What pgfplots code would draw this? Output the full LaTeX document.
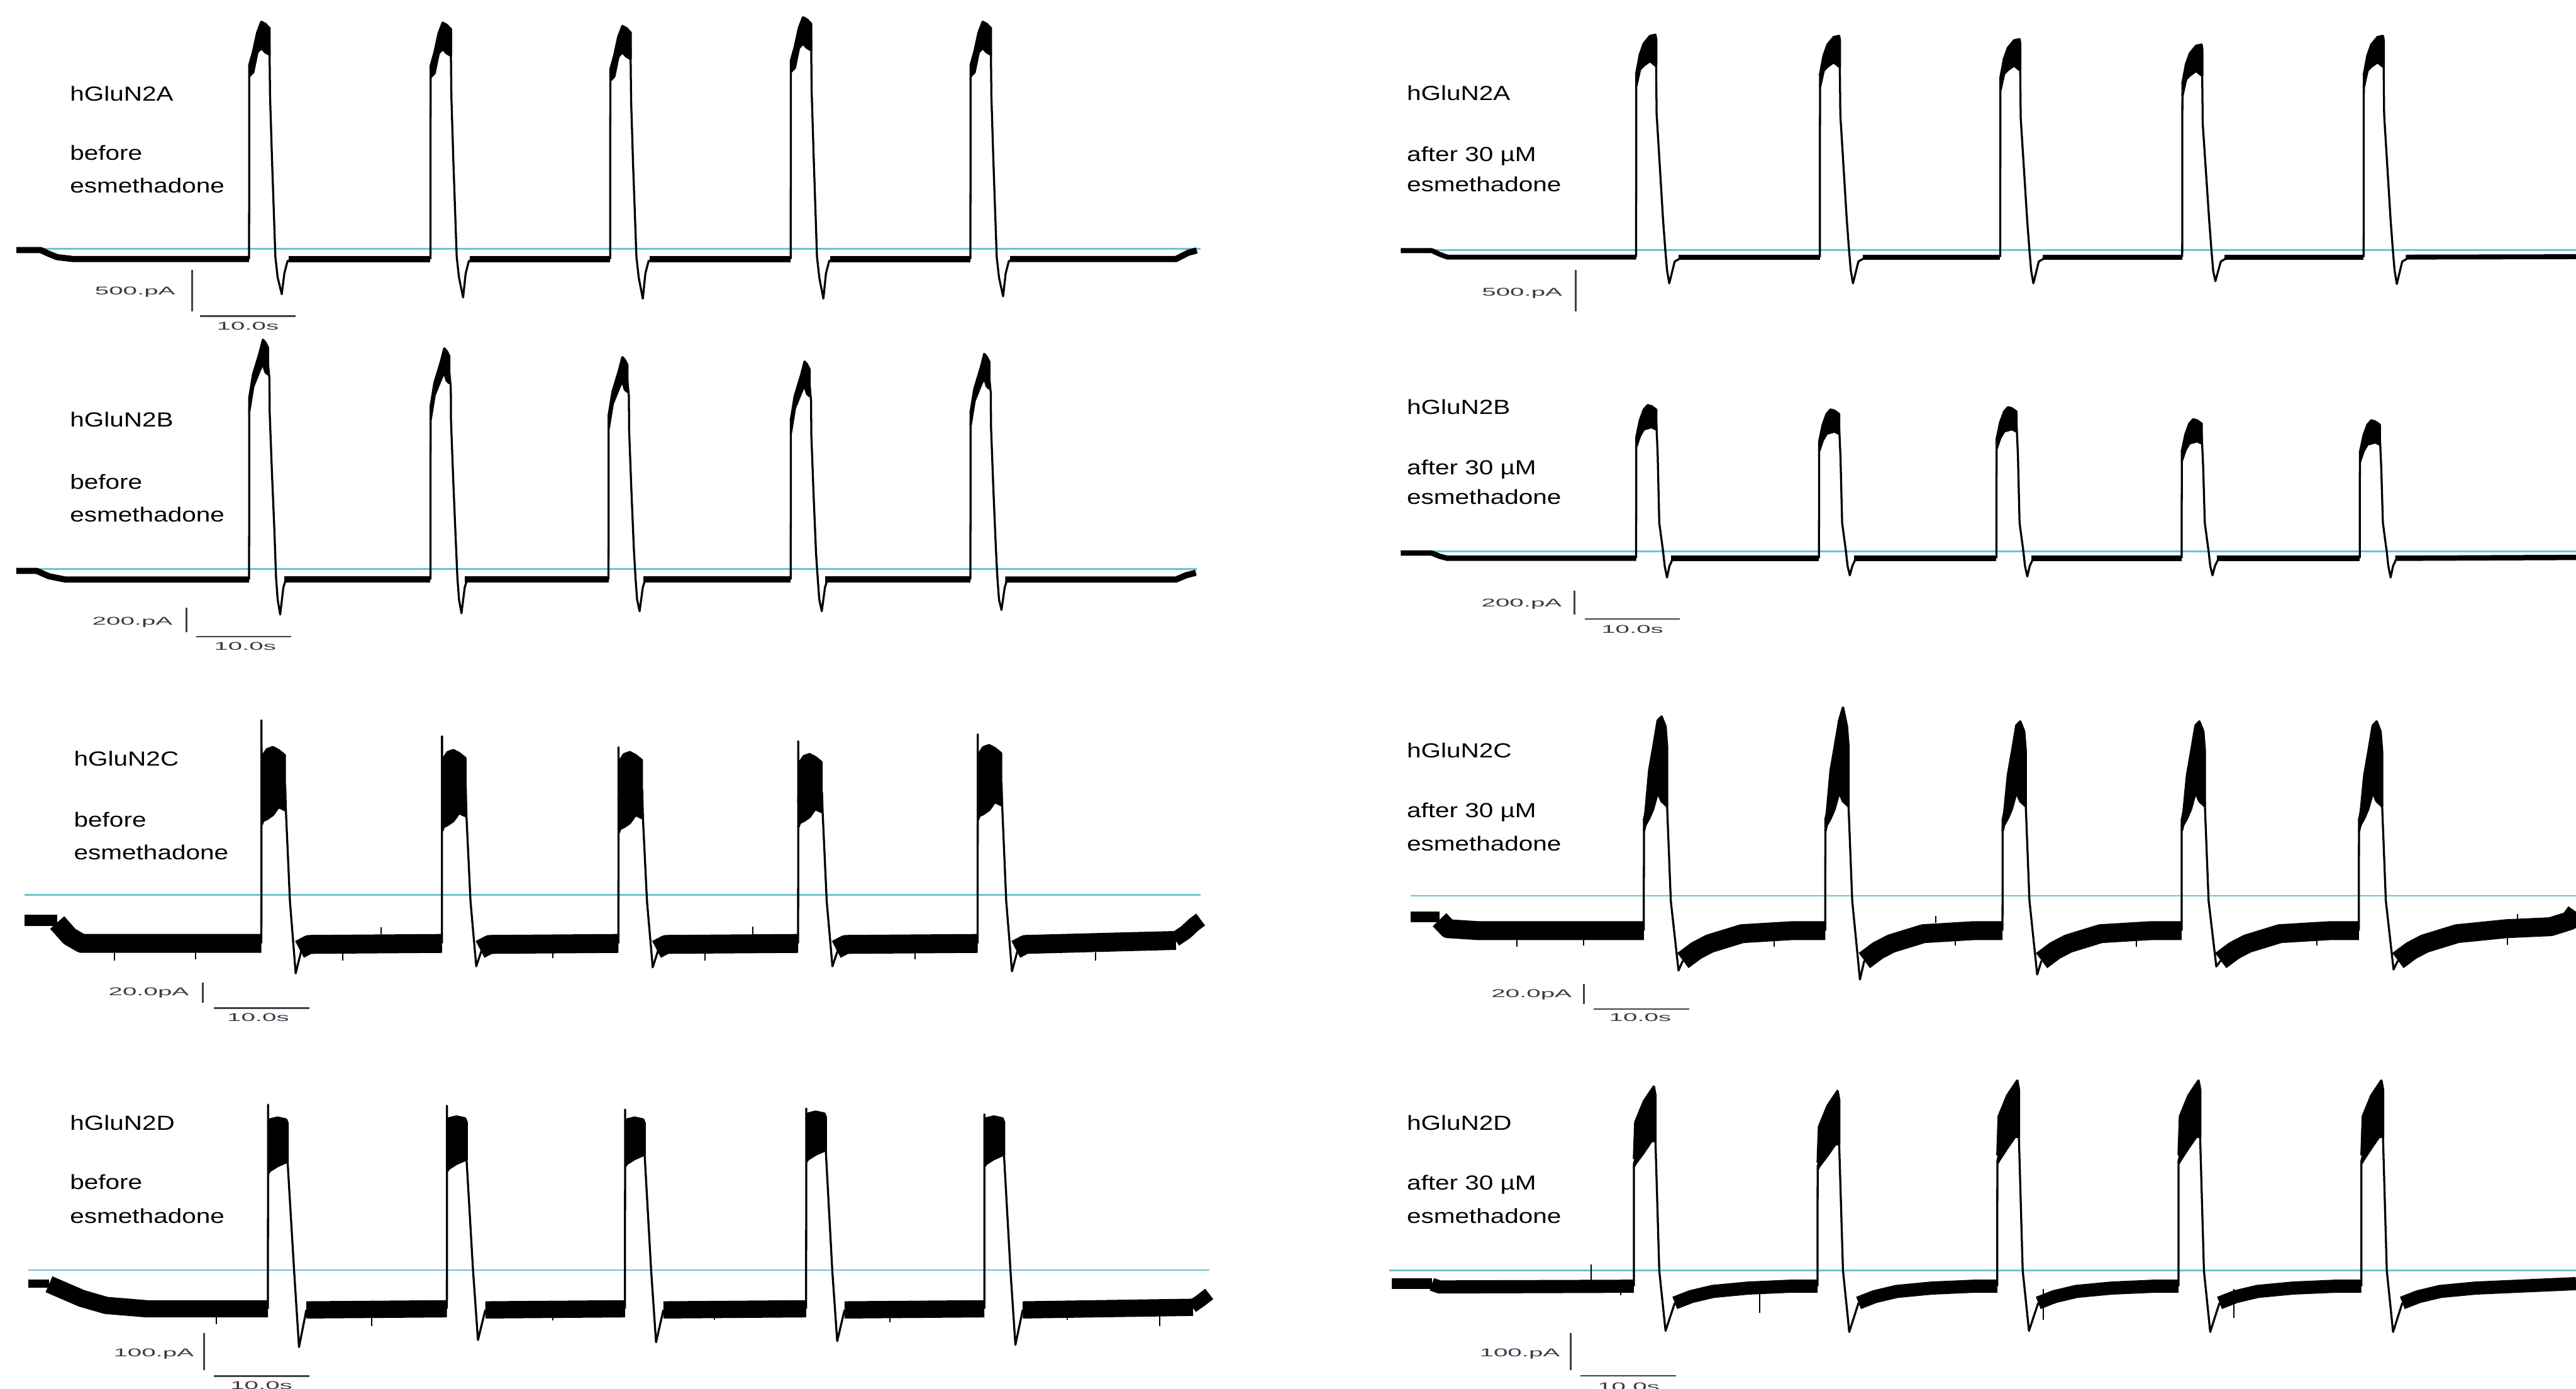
\documentclass[border=0pt]{standalone}
\usepackage{pgfplots}
\pgfplotsset{compat=1.18}
\usepackage{fontspec}
\setmainfont{Liberation Sans}
\usepackage{graphicx}
\definecolor{cyanC}{RGB}{110,196,204}
\definecolor{barC}{RGB}{64,64,64}
\definecolor{barT}{RGB}{60,56,72}
\pgfplotsset{
 panel/.style={scale only axis, width=156.8mm, anchor=north west, xmin=0, xmax=135.17, hide axis, clip=false},
 cyanl/.style={color=cyanC, line width=0.22mm},
 trace/.style={black, line width=0.25mm, line join=round},
 band/.style={black, line width=#1, line join=round, line cap=butt},
 blk/.style={fill=black, draw=black, line width=0.3mm, line join=round},
 sbar/.style={color=barC, line width=0.22mm},
 spk/.style={black, line width=0.15mm, unbounded coords=jump},
}
\newcommand{\lab}[3]{\node[anchor=base west, inner sep=0pt, font=\fontsize{7.06}{8}\selectfont] at ({#1*0.2mm},{-#2*0.2mm}) {\scalebox{1.25}[1]{#3}};}
\newcommand{\slabr}[3]{\node[anchor=east, inner sep=0pt, text=barT, font=\fontsize{3.9}{4.5}\selectfont] at (axis cs:#1,#2) {\scalebox{2.25}[1]{#3}};}
\newcommand{\slabc}[3]{\node[anchor=center, inner sep=0pt, text=barT, font=\fontsize{3.9}{4.5}\selectfont] at (axis cs:#1,#2) {\scalebox{2.25}[1]{#3}};}
\begin{document}
\begin{tikzpicture}
\useasboundingbox (0,0) rectangle (313.6mm,-169mm);
% ---------------- P1 hGluN2A before ----------------
\begin{axis}[panel, at={(0mm,0mm)}, height=41mm, ymin=-1072, ymax=3028]
\addplot[cyanl] coordinates {(1.72,0) (126.0,0)};
\addplot[band=0.75mm] coordinates {(1.72,-16) (4.29,-16) (5.14,-62) (6.0,-102) (7.71,-125) (26.14,-125)};
\addplot[band=0.75mm] coordinates {(30.3,-125) (45.17,-125)};
\addplot[band=0.75mm] coordinates {(49.3,-125) (64.03,-125)};
\addplot[band=0.75mm] coordinates {(68.2,-125) (82.98,-125)};
\addplot[band=0.75mm] coordinates {(87.1,-125) (101.84,-125)};
\addplot[band=0.75mm] coordinates {(106.0,-125) (123.4,-125) (124.7,-48) (125.6,-20)};
\addplot[trace] coordinates {(26.14,-125) (26.16,2230) (26.57,2300) (27.43,2600) (28.28,2500) (28.34,1860) (28.55,1070) (28.90,-100) (29.14,-350) (29.57,-552) (29.84,-300) (30.17,-150) (30.69,-125)};
\addplot[trace] coordinates {(45.17,-125) (45.19,2218) (45.60,2290) (46.46,2590) (47.31,2490) (47.37,1850) (47.58,1060) (47.93,-100) (48.17,-350) (48.60,-592) (48.87,-300) (49.20,-150) (49.72,-125)};
\addplot[trace] coordinates {(64.03,-125) (64.05,2178) (64.46,2250) (65.32,2550) (66.17,2450) (66.23,1810) (66.44,1020) (66.79,-100) (67.03,-350) (67.46,-606) (67.73,-300) (68.06,-150) (68.58,-125)};
\addplot[trace] coordinates {(82.98,-125) (83.00,2284) (83.41,2350) (84.27,2650) (85.12,2550) (85.18,1910) (85.39,1120) (85.74,-100) (85.98,-350) (86.41,-606) (86.68,-300) (87.01,-150) (87.53,-125)};
\addplot[trace] coordinates {(101.84,-125) (101.86,2230) (102.27,2300) (103.13,2600) (103.98,2500) (104.04,1860) (104.25,1070) (104.60,-100) (104.84,-350) (105.27,-578) (105.54,-300) (105.87,-150) (106.39,-125)};
\addplot[blk] coordinates {(26.16,2230) (26.57,2400) (27.00,2630) (27.43,2762) (27.85,2736) (28.28,2684) (28.28,2364) (27.85,2392) (27.43,2444) (27.00,2392) (26.57,2150) (26.16,2100)};
\addplot[blk] coordinates {(45.19,2218) (45.60,2388) (46.03,2618) (46.46,2750) (46.88,2724) (47.31,2672) (47.31,2352) (46.88,2380) (46.46,2432) (46.03,2380) (45.60,2138) (45.19,2088)};
\addplot[blk] coordinates {(64.05,2178) (64.46,2348) (64.89,2578) (65.32,2710) (65.74,2684) (66.17,2632) (66.17,2312) (65.74,2340) (65.32,2392) (64.89,2340) (64.46,2098) (64.05,2048)};
\addplot[blk] coordinates {(83.00,2284) (83.41,2454) (83.84,2684) (84.27,2816) (84.69,2790) (85.12,2738) (85.12,2418) (84.69,2446) (84.27,2498) (83.84,2446) (83.41,2204) (83.00,2154)};
\addplot[blk] coordinates {(101.86,2230) (102.27,2400) (102.70,2630) (103.13,2762) (103.55,2736) (103.98,2684) (103.98,2364) (103.55,2392) (103.13,2444) (102.70,2392) (102.27,2150) (101.86,2100)};
\addplot[sbar] coordinates {(20.14,-260) (20.14,-760)};
\addplot[sbar] coordinates {(21.0,-818) (31.0,-818)};
\slabr{18.45}{-526}{500.pA}
\slabc{26.0}{-940}{10.0s}
\end{axis}
% ---------------- P2 hGluN2A after ----------------
\begin{axis}[panel, at={(156.8mm,0mm)}, height=41mm, ymin=-1056, ymax=3044]
\addplot[cyanl] coordinates {(11.84,0) (135.17,0)};
\addplot[band=0.6mm] coordinates {(11.84,-6) (15.09,-6) (15.9,-50) (16.71,-85) (36.53,-85)};
\addplot[band=0.6mm] coordinates {(41.0,-85) (55.81,-85)};
\addplot[band=0.6mm] coordinates {(60.3,-85) (74.74,-85)};
\addplot[band=0.6mm] coordinates {(79.2,-85) (93.84,-85)};
\addplot[band=0.6mm] coordinates {(98.3,-85) (112.88,-85)};
\addplot[band=0.6mm] coordinates {(117.3,-85) (135.17,-80)};
\addplot[trace] coordinates {(36.53,-85) (36.55,2144) (37.34,2380) (38.55,2450) (38.63,2250) (38.68,1664) (39.36,366) (39.60,-6) (39.78,-250) (40.01,-404) (40.58,-138) (41.39,-85)};
\addplot[trace] coordinates {(55.81,-85) (55.83,2130) (56.62,2366) (57.83,2436) (57.91,2236) (57.96,1650) (58.64,366) (58.88,-6) (59.06,-250) (59.29,-404) (59.86,-138) (60.67,-85)};
\addplot[trace] coordinates {(74.74,-85) (74.76,2090) (75.55,2326) (76.76,2396) (76.84,2196) (76.89,1610) (77.57,366) (77.81,-6) (77.99,-250) (78.22,-404) (78.79,-138) (79.60,-85)};
\addplot[trace] coordinates {(93.84,-85) (93.86,2024) (94.65,2260) (95.86,2330) (95.94,2130) (95.99,1544) (96.67,366) (96.91,-6) (97.09,-250) (97.32,-378) (97.89,-138) (98.70,-85)};
\addplot[trace] coordinates {(112.88,-85) (112.90,2130) (113.69,2366) (114.90,2436) (114.98,2236) (115.03,1650) (115.71,366) (115.95,-6) (116.13,-250) (116.36,-412) (116.93,-138) (117.74,-85)};
\addplot[blk] coordinates {(36.55,2144) (36.93,2380) (37.34,2514) (37.99,2606) (38.55,2620) (38.63,2560) (38.63,2250) (38.55,2248) (37.99,2302) (37.34,2248) (36.93,2200) (36.55,2000)};
\addplot[blk] coordinates {(55.83,2130) (56.21,2366) (56.62,2500) (57.27,2592) (57.83,2606) (57.91,2546) (57.91,2236) (57.83,2234) (57.27,2288) (56.62,2234) (56.21,2186) (55.83,1986)};
\addplot[blk] coordinates {(74.76,2090) (75.14,2326) (75.55,2460) (76.20,2552) (76.76,2566) (76.84,2506) (76.84,2196) (76.76,2194) (76.20,2248) (75.55,2194) (75.14,2146) (74.76,1946)};
\addplot[blk] coordinates {(93.86,2024) (94.24,2260) (94.65,2394) (95.30,2486) (95.86,2500) (95.94,2440) (95.94,2130) (95.86,2128) (95.30,2182) (94.65,2128) (94.24,2080) (93.86,1880)};
\addplot[blk] coordinates {(112.90,2130) (113.28,2366) (113.69,2500) (114.34,2592) (114.90,2606) (114.98,2546) (114.98,2236) (114.90,2234) (114.34,2288) (113.69,2234) (113.28,2186) (112.90,1986)};
\addplot[sbar] coordinates {(30.22,-244) (30.22,-744)};
\slabr{28.84}{-522}{500.pA}
\end{axis}
% ---------------- P3 hGluN2B before ----------------
\begin{axis}[panel, at={(0mm,-41mm)}, height=40mm, ymin=-792.5, ymax=1907.6]
\addplot[cyanl] coordinates {(1.71,0) (125.6,0)};
\addplot[band=0.75mm] coordinates {(1.71,-15) (3.86,-15) (5.14,-59) (6.86,-86) (26.14,-86)};
\addplot[band=0.75mm] coordinates {(29.8,-86) (45.17,-86)};
\addplot[band=0.75mm] coordinates {(48.8,-86) (63.86,-86)};
\addplot[band=0.75mm] coordinates {(67.5,-86) (82.98,-86)};
\addplot[band=0.75mm] coordinates {(86.6,-86) (101.84,-86)};
\addplot[band=0.75mm] coordinates {(105.5,-86) (123.4,-86) (124.5,-50) (125.5,-30)};
\addplot[trace] coordinates {(26.14,-86) (26.16,1400) (26.57,1550) (27.60,1790) (28.11,1700) (28.28,1561) (28.30,1292) (28.54,791) (28.80,308) (28.97,-69) (29.14,-250) (29.40,-373) (29.74,-150) (30.00,-86)};
\addplot[trace] coordinates {(45.17,-86) (45.19,1329) (45.60,1479) (46.63,1719) (47.14,1629) (47.31,1490) (47.33,1221) (47.57,720) (47.83,237) (48.00,-69) (48.17,-250) (48.43,-363) (48.77,-150) (49.03,-86)};
\addplot[trace] coordinates {(63.86,-86) (63.88,1257) (64.29,1407) (65.32,1647) (65.83,1557) (66.00,1418) (66.02,1149) (66.26,648) (66.52,165) (66.69,-69) (66.86,-250) (67.12,-346) (67.46,-150) (67.72,-86)};
\addplot[trace] coordinates {(82.98,-86) (83.00,1221) (83.41,1371) (84.44,1611) (84.95,1521) (85.12,1382) (85.14,1113) (85.38,612) (85.64,129) (85.81,-69) (85.98,-250) (86.24,-346) (86.58,-150) (86.84,-86)};
\addplot[trace] coordinates {(101.84,-86) (101.86,1283) (102.27,1433) (103.30,1673) (103.81,1583) (103.98,1444) (104.00,1175) (104.24,674) (104.50,191) (104.67,-69) (104.84,-250) (105.10,-336) (105.44,-150) (105.70,-86)};
\addplot[blk] coordinates {(26.16,1400) (26.57,1600) (27.25,1775) (27.60,1883) (27.85,1860) (28.11,1820) (28.11,1600) (27.85,1620) (27.60,1690) (27.25,1632) (26.57,1500) (26.16,1300)};
\addplot[blk] coordinates {(45.19,1329) (45.60,1529) (46.28,1704) (46.63,1812) (46.88,1789) (47.14,1749) (47.14,1529) (46.88,1549) (46.63,1619) (46.28,1561) (45.60,1429) (45.19,1229)};
\addplot[blk] coordinates {(63.88,1257) (64.29,1457) (64.97,1632) (65.32,1740) (65.57,1717) (65.83,1677) (65.83,1457) (65.57,1477) (65.32,1547) (64.97,1489) (64.29,1357) (63.88,1157)};
\addplot[blk] coordinates {(83.00,1221) (83.41,1421) (84.09,1596) (84.44,1704) (84.69,1681) (84.95,1641) (84.95,1421) (84.69,1441) (84.44,1511) (84.09,1453) (83.41,1321) (83.00,1121)};
\addplot[blk] coordinates {(101.86,1283) (102.27,1483) (102.95,1658) (103.30,1766) (103.55,1743) (103.81,1703) (103.81,1483) (103.55,1503) (103.30,1573) (102.95,1515) (102.27,1383) (101.86,1183)};
\addplot[sbar] coordinates {(19.55,-319) (19.55,-519)};
\addplot[sbar] coordinates {(20.57,-555) (30.57,-555)};
\slabr{18.17}{-435}{200.pA}
\slabc{25.72}{-636}{10.0s}
\end{axis}
% ---------------- P4 hGluN2B after ----------------
\begin{axis}[panel, at={(156.8mm,-41mm)}, height=40mm, ymin=-938.25, ymax=1761.75]
\addplot[cyanl] coordinates {(11.84,0) (135.17,0)};
\addplot[band=0.65mm] coordinates {(11.84,-14) (15.09,-14) (15.9,-40) (16.71,-57) (36.53,-57)};
\addplot[band=0.65mm] coordinates {(40.2,-57) (55.72,-57)};
\addplot[band=0.65mm] coordinates {(59.4,-57) (74.34,-57)};
\addplot[band=0.65mm] coordinates {(78.0,-57) (93.78,-57)};
\addplot[band=0.65mm] coordinates {(97.5,-57) (112.47,-57)};
\addplot[band=0.65mm] coordinates {(116.2,-57) (135.17,-50)};
\addplot[trace] coordinates {(36.53,-57) (36.55,932) (37.34,1080) (38.63,1080) (38.68,1003) (38.79,806) (38.96,234) (39.36,0) (39.53,-120) (39.77,-215) (40.03,-120) (40.41,-57)};
\addplot[trace] coordinates {(55.72,-57) (55.74,896) (56.53,1044) (57.82,1044) (57.87,967) (57.98,770) (58.15,234) (58.55,0) (58.72,-120) (58.96,-197) (59.22,-120) (59.60,-57)};
\addplot[trace] coordinates {(74.34,-57) (74.36,915) (75.15,1063) (76.44,1063) (76.49,986) (76.60,789) (76.77,234) (77.17,0) (77.34,-120) (77.58,-206) (77.84,-120) (78.22,-57)};
\addplot[trace] coordinates {(93.78,-57) (93.80,816) (94.59,964) (95.88,964) (95.93,887) (96.04,690) (96.21,234) (96.61,0) (96.78,-120) (97.02,-197) (97.28,-120) (97.66,-57)};
\addplot[trace] coordinates {(112.47,-57) (112.49,807) (113.28,955) (114.57,955) (114.62,878) (114.73,681) (114.90,234) (115.30,0) (115.47,-120) (115.71,-215) (115.97,-120) (116.35,-57)};
\addplot[blk] coordinates {(36.55,932) (36.93,1075) (37.34,1164) (37.74,1200) (38.15,1191) (38.63,1164) (38.63,1003) (38.15,1021) (37.74,1012) (37.34,1003) (36.93,949) (36.55,860)};
\addplot[blk] coordinates {(55.74,896) (56.12,1039) (56.53,1128) (56.93,1164) (57.34,1155) (57.82,1128) (57.82,967) (57.34,985) (56.93,976) (56.53,967) (56.12,913) (55.74,824)};
\addplot[blk] coordinates {(74.36,915) (74.74,1058) (75.15,1147) (75.55,1183) (75.96,1174) (76.44,1147) (76.44,986) (75.96,1004) (75.55,995) (75.15,986) (74.74,932) (74.36,843)};
\addplot[blk] coordinates {(93.80,816) (94.18,959) (94.59,1048) (94.99,1084) (95.40,1075) (95.88,1048) (95.88,887) (95.40,905) (94.99,896) (94.59,887) (94.18,833) (93.80,744)};
\addplot[blk] coordinates {(112.49,807) (112.87,950) (113.28,1039) (113.68,1075) (114.09,1066) (114.57,1039) (114.57,878) (114.09,896) (113.68,887) (113.28,878) (112.87,824) (112.49,735)};
\addplot[sbar] coordinates {(30.07,-321) (30.07,-521)};
\addplot[sbar] coordinates {(31.12,-556) (41.12,-556)};
\slabr{28.79}{-435}{200.pA}
\slabc{36.14}{-641}{10.0s}
\end{axis}
% ---------------- P5 hGluN2C before ----------------
\begin{axis}[panel, at={(0mm,-81mm)}, height=44mm, ymin=-133.0, ymax=230.0]
\addplot[cyanl] coordinates {(2.57,0) (126.0,0)};
\addplot[band=1.4mm] coordinates {(2.57,-26) (6.0,-26)};
\addplot[band=2.3mm] coordinates {(6.0,-28) (7.3,-42) (8.57,-49) (27.43,-49)};
\addplot[band=2.3mm] coordinates {(31.43,-55) (32.43,-50) (46.38,-49)};
\addplot[band=2.3mm] coordinates {(50.38,-55) (51.38,-50) (64.90,-49)};
\addplot[band=2.3mm] coordinates {(68.90,-55) (69.90,-50) (83.76,-49)};
\addplot[band=2.3mm] coordinates {(87.76,-55) (88.76,-50) (102.60,-49)};
\addplot[band=2.3mm] coordinates {(106.60,-55) (107.60,-50) (123.4,-46)};
\addplot[band=1.8mm] coordinates {(123.3,-45) (124.4,-38) (125.3,-30) (126.0,-25)};
\addplot[spk] coordinates {(12.0,-58) (12.0,-66) (12.0,nan) (20.5,-58) (20.5,-65) (20.5,nan) (36.0,-58) (36.0,-66) (36.0,nan) (58.0,-58) (58.0,-64) (58.0,nan) (74.0,-58) (74.0,-66) (74.0,nan) (96.0,-58) (96.0,-65) (96.0,nan) (115.0,-58) (115.0,-66) (115.0,nan) (40.0,-40) (40.0,-33) (40.0,nan) (79.0,-40) (79.0,-32)};
\addplot[trace] coordinates {(27.43,-49) (27.44,175) (27.46,100) (28.63,115) (29.93,110) (30.00,85) (30.43,-7) (31.03,-79) (31.73,-52)};
\addplot[trace] coordinates {(46.38,-49) (46.39,159) (46.41,97) (47.58,112) (48.88,107) (48.95,79) (49.38,-7) (49.98,-72) (50.68,-52)};
\addplot[trace] coordinates {(64.90,-49) (64.91,148) (64.93,95) (66.10,110) (67.40,105) (67.47,77) (67.90,-7) (68.50,-73) (69.20,-52)};
\addplot[trace] coordinates {(83.76,-49) (83.77,154) (83.79,93) (84.96,108) (86.26,103) (86.33,83) (86.76,-7) (87.36,-72) (88.06,-52)};
\addplot[trace] coordinates {(102.60,-49) (102.61,161) (102.63,102) (103.80,117) (105.10,112) (105.17,90) (105.60,-7) (106.20,-77) (106.90,-52)};
\addplot[blk] coordinates {(27.46,100) (27.60,140) (28.03,146) (28.63,148) (29.23,145) (29.88,140) (29.88,85) (29.23,88) (28.63,80) (28.03,76) (27.60,74) (27.46,70)};
\addplot[blk] coordinates {(46.41,97) (46.55,137) (46.98,143) (47.58,145) (48.18,142) (48.83,137) (48.83,79) (48.18,82) (47.58,74) (46.98,70) (46.55,68) (46.41,64)};
\addplot[blk] coordinates {(64.93,95) (65.07,135) (65.50,141) (66.10,143) (66.70,140) (67.35,135) (67.35,77) (66.70,80) (66.10,72) (65.50,68) (65.07,66) (64.93,62)};
\addplot[blk] coordinates {(83.79,93) (83.93,133) (84.36,139) (84.96,141) (85.56,138) (86.21,133) (86.21,83) (85.56,86) (84.96,78) (84.36,74) (83.93,72) (83.79,68)};
\addplot[blk] coordinates {(102.63,102) (102.77,142) (103.20,148) (103.80,150) (104.40,147) (105.05,142) (105.05,90) (104.40,93) (103.80,85) (103.20,81) (102.77,79) (102.63,75)};
\addplot[sbar] coordinates {(21.26,-88.6) (21.26,-108.6)};
\addplot[sbar] coordinates {(22.47,-113.9) (32.47,-113.9)};
\slabr{19.88}{-98.3}{20.0pA}
\slabc{27.09}{-123.6}{10.0s}
\end{axis}
% ---------------- P6 hGluN2C after ----------------
\begin{axis}[panel, at={(156.8mm,-81mm)}, height=44mm, ymin=-131.8, ymax=231.2]
\addplot[cyanl] coordinates {(12.9,0) (135.17,0)};
\addplot[band=1.3mm] coordinates {(12.9,-21) (15.9,-21)};
\addplot[band=2.3mm] coordinates {(15.9,-24) (16.8,-33) (20,-35) (37.34,-35)};
\addplot[band=2.3mm] coordinates {(41.44,-65) (42.84,-55) (44.24,-48) (47.64,-38) (52.84,-35) (56.38,-35)};
\addplot[band=2.3mm] coordinates {(60.48,-65) (61.88,-55) (63.28,-48) (66.68,-38) (71.88,-35) (74.98,-35)};
\addplot[band=2.3mm] coordinates {(79.08,-65) (80.48,-55) (81.88,-48) (85.28,-38) (90.48,-35) (93.78,-35)};
\addplot[band=2.3mm] coordinates {(97.88,-65) (99.28,-55) (100.68,-48) (104.08,-38) (109.28,-35) (112.38,-35)};
\addplot[band=2.3mm] coordinates {(116.48,-65) (117.88,-55) (119.28,-48) (122.68,-38) (127.88,-33) (132.5,-31) (134.5,-25) (135.17,-16)};
\addplot[spk] coordinates {(24.0,-44) (24.0,-51) (24.0,nan) (31.0,-44) (31.0,-50) (31.0,nan) (51.0,-44) (51.0,-51) (51.0,nan) (70.0,-44) (70.0,-50) (70.0,nan) (89.0,-44) (89.0,-51) (89.0,nan) (108.0,-44) (108.0,-50) (108.0,nan) (128.0,-42) (128.0,-49) (128.0,nan) (68.0,-27) (68.0,-20) (68.0,nan) (129.0,-25) (129.0,-18)};
\addplot[trace] coordinates {(37.34,-35) (37.35,76) (37.84,100) (38.84,140) (39.77,93) (40.17,-5) (40.98,-75) (41.44,-65)};
\addplot[trace] coordinates {(56.38,-35) (56.39,76) (56.88,100) (57.88,140) (58.81,93) (59.21,-5) (60.02,-84) (60.48,-65)};
\addplot[trace] coordinates {(74.98,-35) (74.99,76) (75.48,100) (76.48,135) (77.41,93) (77.81,-5) (78.62,-79) (79.08,-65)};
\addplot[trace] coordinates {(93.78,-35) (93.79,76) (94.28,100) (95.28,135) (96.21,93) (96.61,-5) (97.42,-71) (97.88,-65)};
\addplot[trace] coordinates {(112.38,-35) (112.39,76) (112.88,100) (113.88,135) (114.81,93) (115.21,-5) (116.02,-74) (116.48,-65)};
\addplot[blk] coordinates {(37.35,76) (37.50,82) (37.91,126) (38.31,148) (38.80,176) (39.20,180) (39.61,170) (39.77,150) (39.77,90) (39.20,95) (38.80,104) (38.31,87) (37.91,78) (37.50,71) (37.35,65)};
\addplot[blk] coordinates {(56.39,76) (56.54,82) (56.95,126) (57.35,148) (57.84,176) (58.24,189) (58.65,170) (58.81,150) (58.81,90) (58.24,95) (57.84,104) (57.35,87) (56.95,78) (56.54,71) (56.39,65)};
\addplot[blk] coordinates {(74.99,76) (75.14,80) (75.55,121) (75.95,143) (76.44,171) (76.84,175) (77.25,165) (77.41,145) (77.41,90) (76.84,95) (76.44,104) (75.95,87) (75.55,78) (75.14,71) (74.99,65)};
\addplot[blk] coordinates {(93.79,76) (93.94,80) (94.35,121) (94.75,143) (95.24,171) (95.64,175) (96.05,165) (96.21,145) (96.21,90) (95.64,95) (95.24,104) (94.75,87) (94.35,78) (93.94,71) (93.79,65)};
\addplot[blk] coordinates {(112.39,76) (112.54,80) (112.95,121) (113.35,143) (113.84,171) (114.24,175) (114.65,165) (114.81,145) (114.81,90) (114.24,95) (113.84,104) (113.35,87) (112.95,78) (112.54,71) (112.39,65)};
\addplot[sbar] coordinates {(31.03,-88.6) (31.03,-108.6)};
\addplot[sbar] coordinates {(32.09,-113.7) (42.09,-113.7)};
\slabr{29.83}{-99.5}{20.0pA}
\slabc{36.95}{-122.4}{10.0s}
\end{axis}
% ---------------- P7 hGluN2D before ----------------
\begin{axis}[panel, at={(0mm,-125mm)}, height=44mm, ymin=-318.7, ymax=653.7]
\addplot[cyanl] coordinates {(3.0,0) (126.9,0)};
\addplot[band=1.0mm] coordinates {(3.0,-36) (5.14,-36)};
\addplot[band=2.1mm] coordinates {(5.14,-38) (6.86,-57) (8.57,-76) (11.14,-95) (15.43,-104) (28.12,-104)};
\addplot[band=2.1mm] coordinates {(32.15,-107) (46.90,-104)};
\addplot[band=2.1mm] coordinates {(50.93,-107) (65.59,-104)};
\addplot[band=2.1mm] coordinates {(69.62,-107) (84.60,-104)};
\addplot[band=2.1mm] coordinates {(88.63,-107) (103.30,-104)};
\addplot[band=2.1mm] coordinates {(107.33,-107) (125.2,-100)};
\addplot[band=1.6mm] coordinates {(125.1,-98) (126.0,-82) (126.9,-64)};
\addplot[spk] coordinates {(22.7,-110) (22.7,-145) (22.7,nan) (39.0,-110) (39.0,-150) (39.0,nan) (93.4,-110) (93.4,-140) (93.4,nan) (121.7,-110) (121.7,-150) (121.7,nan) (58.0,-110) (58.0,-135) (58.0,nan) (75.0,-110) (75.0,-133) (75.0,nan) (112.0,-110) (112.0,-134)};
\addplot[trace] coordinates {(28.12,-104) (28.13,445) (28.15,350) (29.12,345) (30.12,340) (30.18,292) (30.86,0) (31.38,-207) (32.15,-107)};
\addplot[trace] coordinates {(46.90,-104) (46.91,442) (46.93,353) (47.90,348) (48.90,343) (48.96,298) (49.64,0) (50.16,-188) (50.93,-107)};
\addplot[trace] coordinates {(65.59,-104) (65.60,432) (65.62,355) (66.59,350) (67.59,345) (67.65,311) (68.33,0) (68.85,-194) (69.62,-107)};
\addplot[trace] coordinates {(84.60,-104) (84.61,435) (84.63,370) (85.60,365) (86.60,360) (86.66,323) (87.34,0) (87.86,-191) (88.63,-107)};
\addplot[trace] coordinates {(103.30,-104) (103.31,419) (103.33,360) (104.30,355) (105.30,350) (105.36,311) (106.04,0) (106.56,-201) (107.33,-107)};
\addplot[blk] coordinates {(28.14,390) (28.32,405) (29.12,410) (30.02,405) (30.18,395) (30.18,292) (29.12,280) (28.32,267) (28.14,260)};
\addplot[blk] coordinates {(46.92,393) (47.10,408) (47.90,413) (48.80,408) (48.96,398) (48.96,298) (47.90,286) (47.10,273) (46.92,266)};
\addplot[blk] coordinates {(65.61,390) (65.79,405) (66.59,410) (67.49,405) (67.65,395) (67.65,311) (66.59,299) (65.79,286) (65.61,279)};
\addplot[blk] coordinates {(84.62,406) (84.80,421) (85.60,426) (86.50,421) (86.66,411) (86.66,323) (85.60,311) (84.80,298) (84.62,291)};
\addplot[blk] coordinates {(103.32,393) (103.50,408) (104.30,413) (105.20,408) (105.36,398) (105.36,311) (104.30,299) (103.50,286) (103.32,279)};
\addplot[sbar] coordinates {(21.43,-169) (21.43,-269)};
\addplot[sbar] coordinates {(22.47,-285) (32.47,-285)};
\slabr{20.4}{-225}{100.pA}
\slabc{27.43}{-310}{10.0s}
\end{axis}
% ---------------- P8 hGluN2D after ----------------
\begin{axis}[panel, at={(156.8mm,-125mm)}, height=44mm, ymin=-317.4, ymax=655.0]
\addplot[cyanl] coordinates {(10.64,0) (135.17,0)};
\addplot[band=1.3mm] coordinates {(10.88,-35) (15.09,-35)};
\addplot[band=1.6mm] coordinates {(15.09,-37) (15.9,-44) (36.29,-42)};
\addplot[band=1.6mm] coordinates {(40.59,-87) (42.29,-70) (44.59,-56) (48.29,-47) (52.69,-42) (55.57,-42)};
\addplot[band=1.6mm] coordinates {(59.87,-87) (61.57,-70) (63.87,-56) (67.57,-47) (71.97,-42) (74.43,-42)};
\addplot[band=1.6mm] coordinates {(78.73,-87) (80.43,-70) (82.73,-56) (86.43,-47) (90.83,-42) (93.45,-42)};
\addplot[band=1.6mm] coordinates {(97.75,-87) (99.45,-70) (101.75,-56) (105.45,-47) (109.85,-42) (112.64,-42)};
\addplot[band=1.6mm] coordinates {(116.94,-87) (118.64,-70) (120.94,-56) (124.64,-47) (129.04,-42) (135.17,-35)};
\addplot[spk] coordinates {(31.83,-40) (31.83,16) (31.83,nan) (34.93,-45) (34.93,-66) (34.93,nan) (49.48,-50) (49.48,-113) (49.48,nan) (79.28,-50) (79.28,-132) (79.28,nan) (99.28,-50) (99.28,-127)};
\addplot[trace] coordinates {(36.29,-42) (36.30,287) (37.29,380) (38.49,420) (38.56,349) (38.96,0) (39.62,-162) (40.59,-87)};
\addplot[trace] coordinates {(55.57,-42) (55.58,280) (56.57,368) (57.77,408) (57.84,340) (58.24,0) (58.90,-165) (59.87,-87)};
\addplot[trace] coordinates {(74.43,-42) (74.44,295) (75.43,396) (76.63,436) (76.70,360) (77.10,0) (77.76,-162) (78.73,-87)};
\addplot[trace] coordinates {(93.45,-42) (93.46,295) (94.45,396) (95.65,436) (95.72,360) (96.12,0) (96.78,-165) (97.75,-87)};
\addplot[trace] coordinates {(112.64,-42) (112.65,295) (113.64,396) (114.84,436) (114.91,360) (115.31,0) (115.97,-165) (116.94,-87)};
\addplot[blk] coordinates {(36.31,300) (36.45,399) (37.34,455) (37.99,480) (38.39,495) (38.56,470) (38.56,349) (38.15,349) (37.34,318) (36.45,287) (36.31,280)};
\addplot[blk] coordinates {(55.59,290) (55.73,387) (56.62,443) (57.27,468) (57.67,483) (57.84,458) (57.84,340) (57.43,340) (56.62,310) (55.73,280) (55.59,272)};
\addplot[blk] coordinates {(74.45,310) (74.59,415) (75.48,471) (76.13,496) (76.53,511) (76.70,486) (76.70,360) (76.29,360) (75.48,330) (74.59,295) (74.45,288)};
\addplot[blk] coordinates {(93.47,310) (93.61,415) (94.50,471) (95.15,496) (95.55,511) (95.72,486) (95.72,360) (95.31,360) (94.50,330) (93.61,295) (93.47,288)};
\addplot[blk] coordinates {(112.66,310) (112.80,415) (113.69,471) (114.34,496) (114.74,511) (114.91,486) (114.91,360) (114.50,360) (113.69,330) (112.80,295) (112.66,288)};
\addplot[sbar] coordinates {(29.66,-168) (29.66,-268)};
\addplot[sbar] coordinates {(30.71,-283) (40.71,-283)};
\slabr{28.59}{-224}{100.pA}
\slabc{35.74}{-312}{10.0s}
\end{axis}
% ---------------- labels ----------------
\lab{42.3}{61.3}{hGluN2A}
\lab{42.3}{97.5}{before}
\lab{42.3}{117.3}{esmethadone}
\lab{856}{61}{hGluN2A}
\lab{856}{98}{after 30 µM}
\lab{856}{116.7}{esmethadone}
\lab{42.3}{259.9}{hGluN2B}
\lab{42.3}{297.7}{before}
\lab{42.3}{317.6}{esmethadone}
\lab{856}{251.9}{hGluN2B}
\lab{856}{289}{after 30 µM}
\lab{856}{306.9}{esmethadone}
\lab{44.7}{466.2}{hGluN2C}
\lab{44.7}{503.3}{before}
\lab{44.7}{523.2}{esmethadone}
\lab{856}{460.9}{hGluN2C}
\lab{856}{497.4}{after 30 µM}
\lab{856}{517.9}{esmethadone}
\lab{42.3}{687.9}{hGluN2D}
\lab{42.3}{723.8}{before}
\lab{42.3}{744.3}{esmethadone}
\lab{856}{687.9}{hGluN2D}
\lab{856}{724}{after 30 µM}
\lab{856}{744.3}{esmethadone}
\end{tikzpicture}
\end{document}
